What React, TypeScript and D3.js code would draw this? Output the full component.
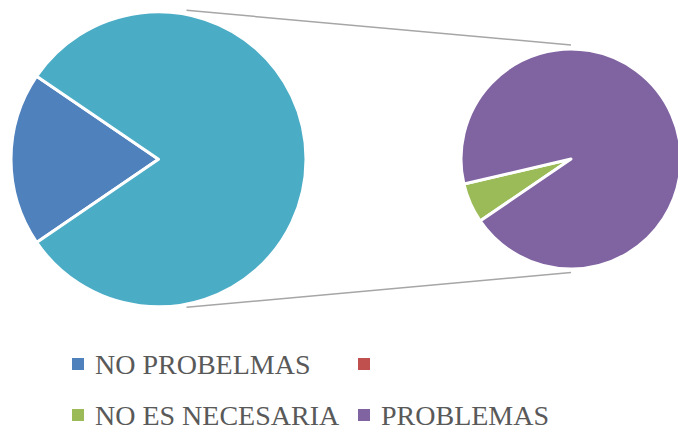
import React from "react";
import * as d3 from "d3";

// categories and values (pie of pie, last two go to the secondary pie)
const categories = ["NO PROBELMAS", "", "NO ES NECESARIA", "PROBLEMAS"];
const values = [4, 0, 1, 16];
const colors = ["#4F81BD", "#C0504D", "#9BBB59", "#8064A2"];
const otherColor = "#4BACC6";
const splitIndex = 1; // items from here on are in the "other" slice

const W = 678;
const H = 431;

const App = () => {
  const total = d3.sum(values);
  const firstVals = values.slice(0, splitIndex);
  const otherVals = values.slice(splitIndex);
  const otherSum = d3.sum(otherVals);

  // main pie: first items + "other" slice pointing to the right
  const firstSum = d3.sum(firstVals);
  const start = (3 * Math.PI) / 2 - Math.PI * (firstSum / total);

  const mainData = [
    ...firstVals.map((v, i) => ({ v, color: colors[i] })),
    { v: otherSum, color: otherColor },
  ];
  const secData = otherVals
    .map((v, i) => ({ v, color: colors[i + splitIndex] }))
    .filter((d) => d.v > 0);

  const pie = d3
    .pie<{ v: number; color: string }>()
    .sort(null)
    .value((d) => d.v)
    .startAngle(start)
    .endAngle(start + 2 * Math.PI);

  const c1 = { x: 158.5, y: 159.3, r: 147.5 };
  const c2 = { x: 571, y: 159, r: 110 };

  const arc1 = d3.arc<d3.PieArcDatum<any>>().innerRadius(0).outerRadius(c1.r);
  const arc2 = d3.arc<d3.PieArcDatum<any>>().innerRadius(0).outerRadius(c2.r);

  // connector lines
  const lx1 = c1.x + c1.r * 0.19;
  const lines = [
    [lx1, c1.y - c1.r - 1.5, c2.x, c2.y - c2.r - 4],
    [lx1, c1.y + c1.r + 0.5, c2.x, c2.y + c2.r + 3.5],
  ];

  const legendX = [72, 358];
  const legendY = [358, 409];

  return (
    <svg
      width={W}
      height={H}
      style={{ position: "absolute", left: 0, top: 0, background: "#fff" }}
    >
      {lines.map((l, i) => (
        <line
          key={i}
          x1={l[0]}
          y1={l[1]}
          x2={l[2]}
          y2={l[3]}
          stroke="#a6a6a6"
          strokeWidth={1.5}
        />
      ))}
      <g transform={`translate(${c1.x},${c1.y})`}>
        {pie(mainData).map((d, i) => (
          <path key={i} d={arc1(d) || ""} fill={d.data.color} stroke="#fff" strokeWidth={3} strokeLinejoin="round" />
        ))}
      </g>
      <g transform={`translate(${c2.x},${c2.y})`}>
        {pie(secData).map((d, i) => (
          <path key={i} d={arc2(d) || ""} fill={d.data.color} stroke="#fff" strokeWidth={3} strokeLinejoin="round" />
        ))}
      </g>
      {/* legend */}
      {categories.map((c, i) => {
        const x = legendX[i % 2];
        const y = legendY[Math.floor(i / 2)];
        return (
          <g key={i}>
            <rect x={x} y={y} width={12} height={12} fill={colors[i]} />
            <text
              x={x + 23}
              y={y + 16}
              fontFamily="'Liberation Serif', serif"
              fontSize={28}
              fill="#595959"
            >
              {c}
            </text>
          </g>
        );
      })}
    </svg>
  );
};

export default App;
